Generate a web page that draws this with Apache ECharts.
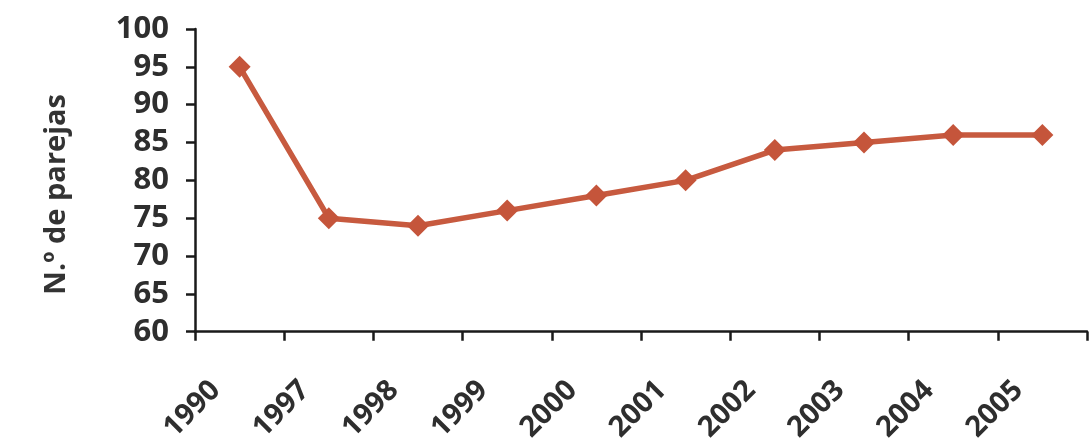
<!DOCTYPE html>
<html>
<head>
<meta charset="utf-8">
<script src="https://cdn.jsdelivr.net/npm/echarts@6/dist/echarts.min.js"></script>
<style>
html,body{margin:0;padding:0;background:#fff;}
#chart{width:1090px;height:445px;}
</style>
</head>
<body>
<div id="chart"></div>
<script>
var categories = ['1990','1997','1998','1999','2000','2001','2002','2003','2004','2005'];
var values = [95, 75, 74, 76, 78, 80, 84, 85, 86, 86];
var yTicks = {min: 60, max: 100, interval: 5};
var yAxisTitle = 'N.º de parejas';

var chart = echarts.init(document.getElementById('chart'));
var font = '"Open Sans", "Noto Sans", sans-serif';
chart.setOption({
  backgroundColor: '#ffffff',
  animation: false,
  grid: {left: 195, right: 3, top: 29, bottom: 112},
  xAxis: {
    type: 'category',
    data: categories,
    boundaryGap: true,
    axisLine: {lineStyle: {color: '#1a1a1a', width: 2.5}},
    axisTick: {show: true, inside: false, length: 9, lineStyle: {color: '#1a1a1a', width: 2.5}},
    axisLabel: {rotate: 45, margin: 30, padding: [0, 34, 0, 0], fontSize: 29, fontFamily: font, fontWeight: 'bold', color: '#2e2e2e'}
  },
  yAxis: {
    type: 'value',
    min: yTicks.min, max: yTicks.max, interval: yTicks.interval,
    name: yAxisTitle,
    nameLocation: 'middle',
    nameGap: 124,
    nameRotate: 90,
    nameTextStyle: {fontSize: 29, fontFamily: font, fontWeight: 'bold', color: '#333', padding: [0, 28, 0, 0]},
    splitLine: {show: false},
    axisLine: {show: true, lineStyle: {color: '#1a1a1a', width: 2.5}},
    axisTick: {show: true, length: 9, lineStyle: {color: '#1a1a1a', width: 2.5}},
    axisLabel: {margin: 26, fontSize: 31, fontFamily: font, fontWeight: 'bold', color: '#2e2e2e'}
  },
  series: [{
    type: 'line',
    data: values,
    symbol: 'diamond',
    symbolSize: 22,
    lineStyle: {color: '#c75a3f', width: 5.5},
    itemStyle: {color: '#c5553b'}
  }]
});
</script>
</body>
</html>
